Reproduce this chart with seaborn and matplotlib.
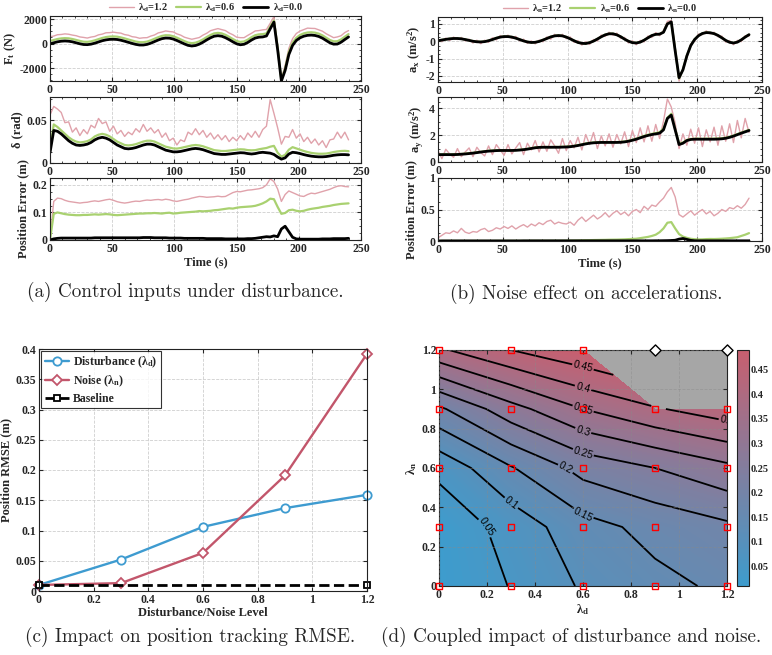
import numpy as np
import seaborn as sns
import matplotlib
matplotlib.use('Agg')
import matplotlib.pyplot as plt
from matplotlib.ticker import AutoMinorLocator, FuncFormatter
from matplotlib.colors import LinearSegmentedColormap

# time grid (s)
t = np.arange(0, 241, 3)

# ---- (a) disturbance sweep ----
ft_d12 = [560, 610, 720, 740, 790, 760, 690, 640, 540,
          500, 450, 530, 580, 710, 770, 880, 890, 930,
          880, 850, 730, 680, 560, 520, 430, 470, 480,
          610, 700, 870, 940, 1030, 980, 950, 790, 690,
          520, 430, 350, 420, 490, 690, 840, 1050, 1140,
          1220, 1140, 1060, 860, 720, 520, 480, 480, 670,
          840, 1030, 1060, 1120, 1150, 1650, 2200, -150, -2850,
          -1800, -400, 400, 820, 1020, 1140, 1260, 1240, 1230,
          1120, 1010, 800, 640, 480, 540, 640, 900, 1060]
ft_d06 = [200, 290, 370, 420, 440, 425, 370, 295, 215,
          150, 140, 180, 260, 360, 455, 530, 570, 580,
          560, 500, 420, 330, 245, 160, 110, 110, 160,
          260, 390, 515, 625, 680, 670, 600, 480, 340,
          200, 80, 30, 70, 180, 340, 530, 700, 830,
          870, 830, 710, 550, 370, 210, 130, 170, 320,
          520, 680, 750, 770, 830, 1380, 1880, -350, -3000,
          -2050, -700, 60, 470, 700, 830, 900, 920, 890,
          810, 670, 480, 290, 180, 190, 340, 560, 770]
ft_d00 = [-30, 60, 140, 190, 210, 190, 140, 60, -20,
          -80, -90, -50, 30, 130, 230, 300, 340, 350,
          330, 270, 190, 100, 10, -70, -120, -120, -70,
          30, 160, 290, 400, 450, 440, 370, 250, 110,
          -30, -150, -200, -160, -50, 110, 300, 470, 600,
          640, 600, 480, 320, 140, -20, -100, -60, 90,
          290, 450, 520, 540, 620, 1200, 1750, -500, -3060,
          -2200, -900, -150, 250, 470, 600, 670, 690, 660,
          580, 440, 250, 60, -50, -40, 110, 330, 540]

delta_d12 = [0.056, 0.066, 0.063, 0.059, 0.047, 0.048, 0.036, 0.041, 0.032,
             0.039, 0.034, 0.044, 0.041, 0.052, 0.046, 0.048, 0.037, 0.043,
             0.034, 0.038, 0.031, 0.036, 0.033, 0.040, 0.036, 0.045, 0.037,
             0.041, 0.035, 0.039, 0.030, 0.035, 0.026, 0.029, 0.021, 0.027,
             0.025, 0.036, 0.033, 0.040, 0.033, 0.038, 0.030, 0.035, 0.028,
             0.033, 0.027, 0.032, 0.025, 0.030, 0.026, 0.032, 0.027, 0.035,
             0.030, 0.037, 0.030, 0.039, 0.043, 0.074, 0.058, 0.041, 0.022,
             0.031, 0.030, 0.039, 0.029, 0.034, 0.025, 0.030, 0.023, 0.028,
             0.021, 0.026, 0.018, 0.027, 0.028, 0.036, 0.029, 0.036, 0.027]
delta_d06 = [0.015, 0.045, 0.042, 0.038, 0.034, 0.030, 0.027, 0.025, 0.024,
             0.0245, 0.0255, 0.0275, 0.031, 0.033, 0.034, 0.033, 0.031, 0.028,
             0.025, 0.023, 0.021, 0.0205, 0.021, 0.022, 0.0235, 0.025, 0.026,
             0.026, 0.025, 0.023, 0.021, 0.019, 0.018, 0.017, 0.0168, 0.0175,
             0.0185, 0.0195, 0.0205, 0.021, 0.0205, 0.0195, 0.018, 0.0165, 0.015,
             0.0145, 0.014, 0.014, 0.0145, 0.015, 0.0155, 0.016, 0.0158, 0.015,
             0.0148, 0.015, 0.016, 0.0168, 0.0175, 0.019, 0.020, 0.012, 0.0075,
             0.0095, 0.0155, 0.0185, 0.017, 0.0155, 0.014, 0.0128, 0.0118, 0.0112,
             0.0108, 0.0108, 0.011, 0.0118, 0.0128, 0.0135, 0.014, 0.0142, 0.0138]
delta_d00 = [0.012, 0.038, 0.037, 0.034, 0.030, 0.026, 0.023, 0.021, 0.0205,
             0.021, 0.022, 0.024, 0.027, 0.029, 0.030, 0.029, 0.027, 0.024,
             0.021, 0.019, 0.017, 0.0165, 0.017, 0.018, 0.0195, 0.021, 0.022,
             0.022, 0.021, 0.019, 0.017, 0.015, 0.014, 0.013, 0.013, 0.0135,
             0.0145, 0.0155, 0.0165, 0.017, 0.0165, 0.0155, 0.014, 0.0125, 0.011,
             0.0105, 0.010, 0.010, 0.0105, 0.011, 0.0115, 0.012, 0.0118, 0.011,
             0.0105, 0.011, 0.012, 0.0125, 0.012, 0.0115, 0.010, 0.007, 0.0045,
             0.006, 0.0105, 0.0125, 0.012, 0.011, 0.0098, 0.0088, 0.008, 0.0075,
             0.0072, 0.0072, 0.0075, 0.0082, 0.009, 0.0095, 0.0098, 0.0098, 0.0095]

perr_d12 = [0.0, 0.140, 0.152, 0.150, 0.144, 0.140, 0.138, 0.136, 0.134,
            0.136, 0.137, 0.140, 0.142, 0.140, 0.143, 0.146, 0.148, 0.144,
            0.139, 0.136, 0.134, 0.136, 0.139, 0.141, 0.140, 0.143, 0.145,
            0.144, 0.146, 0.147, 0.145, 0.148, 0.146, 0.142, 0.140, 0.143,
            0.146, 0.148, 0.152, 0.155, 0.158, 0.157, 0.155, 0.156, 0.157,
            0.159, 0.157, 0.158, 0.165, 0.172, 0.176, 0.175, 0.178, 0.181,
            0.182, 0.184, 0.186, 0.190, 0.200, 0.222, 0.212, 0.185, 0.140,
            0.165, 0.178, 0.172, 0.166, 0.160, 0.158, 0.165, 0.170, 0.168,
            0.172, 0.176, 0.180, 0.184, 0.190, 0.195, 0.197, 0.194, 0.193]
perr_d06 = [0.0, 0.095, 0.100, 0.097, 0.094, 0.092, 0.091, 0.090, 0.090,
            0.091, 0.091, 0.092, 0.093, 0.092, 0.093, 0.094, 0.093, 0.091,
            0.090, 0.091, 0.092, 0.093, 0.094, 0.095, 0.096, 0.096, 0.097,
            0.097, 0.098, 0.097, 0.096, 0.098, 0.099, 0.096, 0.097, 0.099,
            0.100, 0.101, 0.102, 0.103, 0.105, 0.104, 0.105, 0.106, 0.108,
            0.109, 0.111, 0.113, 0.115, 0.114, 0.117, 0.119, 0.120, 0.121,
            0.122, 0.124, 0.128, 0.133, 0.140, 0.150, 0.148, 0.120, 0.095,
            0.098, 0.108, 0.110, 0.106, 0.104, 0.106, 0.110, 0.113, 0.115,
            0.117, 0.120, 0.122, 0.124, 0.127, 0.129, 0.131, 0.132, 0.133]
perr_d00 = [0.0, 0.004, 0.006, 0.007, 0.007, 0.007, 0.007, 0.007, 0.007,
            0.007, 0.007, 0.007, 0.008, 0.008, 0.008, 0.008, 0.008, 0.008,
            0.008, 0.008, 0.008, 0.008, 0.008, 0.008, 0.008, 0.009, 0.009,
            0.009, 0.008, 0.008, 0.008, 0.008, 0.007, 0.007, 0.007, 0.007,
            0.006, 0.006, 0.006, 0.006, 0.006, 0.006, 0.005, 0.005, 0.005,
            0.005, 0.005, 0.004, 0.004, 0.004, 0.004, 0.004, 0.004, 0.005,
            0.005, 0.006, 0.008, 0.010, 0.012, 0.011, 0.015, 0.012, 0.040,
            0.050, 0.030, 0.010, 0.004, 0.003, 0.003, 0.003, 0.003, 0.003,
            0.003, 0.004, 0.004, 0.004, 0.005, 0.005, 0.005, 0.005, 0.006]

# ---- (b) noise sweep ----
ax_n12 = [0.10, -0.02, 0.18, 0.05, 0.24, 0.10, 0.22, 0.02, 0.12,
          -0.10, 0.06, -0.14, 0.06, -0.06, 0.20, 0.08, 0.33, 0.20,
          0.35, 0.16, 0.28, 0.02, 0.12, -0.12, 0.02, -0.15, 0.06,
          -0.03, 0.25, 0.12, 0.40, 0.25, 0.40, 0.15, 0.25, -0.06,
          0.04, -0.22, -0.03, -0.18, 0.10, 0.02, 0.36, 0.28, 0.52,
          0.35, 0.47, 0.16, 0.22, -0.10, 0.03, -0.20, 0.05, -0.04,
          0.30, 0.22, 0.50, 0.32, 0.62, 1.15, 1.20, -0.35, -2.30,
          -1.55, -0.95, -0.15, 0.00, 0.42, 0.38, 0.60, 0.42, 0.52,
          0.26, 0.30, -0.05, 0.04, -0.20, 0.05, -0.02, 0.32, 0.30]
ax_n06 = [0.03, 0.08, 0.11, 0.15, 0.16, 0.17, 0.14, 0.11, 0.05,
          0.01, -0.03, -0.03, -0.02, 0.04, 0.10, 0.19, 0.24, 0.28,
          0.27, 0.25, 0.18, 0.11, 0.02, -0.03, -0.07, -0.05, -0.01,
          0.08, 0.16, 0.26, 0.31, 0.34, 0.31, 0.25, 0.14, 0.04,
          -0.07, -0.11, -0.13, -0.07, 0.01, 0.14, 0.26, 0.38, 0.43,
          0.44, 0.37, 0.27, 0.12, 0.01, -0.08, -0.09, -0.05, 0.07,
          0.20, 0.34, 0.40, 0.42, 0.53, 1.02, 1.10, -0.50, -2.15,
          -1.62, -0.84, -0.24, 0.11, 0.33, 0.45, 0.51, 0.49, 0.45,
          0.34, 0.21, 0.05, -0.05, -0.10, -0.04, 0.08, 0.25, 0.38]
ax_n00 = [0.03, 0.07, 0.11, 0.14, 0.16, 0.16, 0.14, 0.10, 0.05,
          0.00, -0.03, -0.04, -0.02, 0.03, 0.10, 0.18, 0.24, 0.27,
          0.27, 0.24, 0.18, 0.10, 0.02, -0.04, -0.07, -0.06, -0.01,
          0.07, 0.16, 0.25, 0.31, 0.33, 0.31, 0.24, 0.14, 0.03,
          -0.07, -0.12, -0.13, -0.08, 0.01, 0.13, 0.26, 0.37, 0.43,
          0.43, 0.37, 0.26, 0.12, 0.00, -0.08, -0.10, -0.05, 0.06,
          0.20, 0.33, 0.40, 0.41, 0.52, 1.00, 1.12, -0.55, -2.10,
          -1.65, -0.85, -0.25, 0.10, 0.32, 0.45, 0.50, 0.49, 0.44,
          0.34, 0.20, 0.05, -0.06, -0.10, -0.05, 0.08, 0.24, 0.38]

ay_n12 = [0.85, 0.25, 0.95, 0.60, 0.35, 1.00, 0.40, 0.75, 1.05,
          0.40, 1.10, 0.70, 0.45, 1.20, 0.55, 1.30, 0.90, 0.50,
          1.30, 0.60, 1.05, 1.45, 0.55, 1.40, 0.90, 1.60, 0.75,
          1.50, 0.80, 1.65, 1.20, 0.65, 1.75, 0.85, 1.60, 1.05,
          1.85, 0.90, 2.05, 1.30, 2.20, 1.00, 1.95, 1.20, 2.10,
          1.10, 2.05, 1.35, 2.25, 1.15, 2.35, 1.45, 2.55, 1.50,
          2.70, 1.55, 2.80, 1.75, 3.05, 4.70, 4.10, 2.90, 1.00,
          2.10, 1.25, 2.45, 1.40, 2.55, 1.15, 2.40, 1.50, 2.60,
          1.25, 2.70, 1.55, 2.85, 1.45, 3.10, 1.80, 3.25, 2.20]
ay_n06 = [0.58, 0.56, 0.60, 0.55, 0.58, 0.57, 0.60, 0.62, 0.66,
          0.68, 0.73, 0.76, 0.80, 0.84, 0.85, 0.88, 0.87, 0.89,
          0.87, 0.89, 0.88, 0.92, 0.93, 0.98, 1.03, 1.08, 1.11,
          1.12, 1.12, 1.11, 1.13, 1.12, 1.14, 1.14, 1.17, 1.20,
          1.26, 1.31, 1.38, 1.42, 1.46, 1.47, 1.49, 1.48, 1.49,
          1.48, 1.49, 1.50, 1.53, 1.58, 1.66, 1.74, 1.84, 1.95,
          2.03, 2.10, 2.16, 2.22, 2.50, 3.30, 3.60, 2.45, 1.38,
          1.45, 1.64, 1.72, 1.73, 1.74, 1.72, 1.74, 1.73, 1.74,
          1.75, 1.77, 1.81, 1.88, 1.97, 2.08, 2.19, 2.29, 2.40]
ay_n00 = [0.55, 0.55, 0.55, 0.55, 0.55, 0.56, 0.58, 0.60, 0.63,
          0.66, 0.70, 0.74, 0.78, 0.81, 0.83, 0.85, 0.86, 0.86,
          0.86, 0.86, 0.87, 0.89, 0.92, 0.96, 1.01, 1.06, 1.09,
          1.10, 1.10, 1.10, 1.10, 1.10, 1.11, 1.12, 1.14, 1.18,
          1.23, 1.29, 1.35, 1.40, 1.43, 1.45, 1.46, 1.46, 1.46,
          1.46, 1.46, 1.47, 1.50, 1.55, 1.62, 1.70, 1.80, 1.90,
          1.98, 2.05, 2.10, 2.15, 2.40, 3.25, 3.50, 2.40, 1.30,
          1.40, 1.60, 1.68, 1.70, 1.70, 1.70, 1.70, 1.70, 1.70,
          1.71, 1.73, 1.77, 1.84, 1.93, 2.04, 2.15, 2.25, 2.35]

perr_n12 = [0.05, 0.09, 0.13, 0.12, 0.16, 0.13, 0.20, 0.14, 0.12,
            0.15, 0.14, 0.18, 0.20, 0.15, 0.17, 0.21, 0.19, 0.23,
            0.20, 0.24, 0.19, 0.23, 0.26, 0.22, 0.27, 0.24, 0.29,
            0.26, 0.31, 0.33, 0.27, 0.30, 0.28, 0.27, 0.30, 0.25,
            0.33, 0.38, 0.31, 0.36, 0.41, 0.35, 0.39, 0.45, 0.38,
            0.44, 0.48, 0.42, 0.46, 0.40, 0.47, 0.50, 0.45, 0.55,
            0.50, 0.57, 0.55, 0.62, 0.68, 0.78, 0.85, 0.70, 0.42,
            0.38, 0.43, 0.48, 0.41, 0.46, 0.50, 0.43, 0.47, 0.40,
            0.44, 0.50, 0.47, 0.53, 0.51, 0.56, 0.52, 0.58, 0.68]
perr_n06 = [0.000, 0.001, 0.001, 0.001, 0.001, 0.001, 0.001, 0.001, 0.001,
            0.001, 0.001, 0.001, 0.001, 0.001, 0.001, 0.002, 0.002, 0.002,
            0.002, 0.002, 0.002, 0.002, 0.002, 0.002, 0.003, 0.003, 0.003,
            0.003, 0.003, 0.004, 0.004, 0.004, 0.005, 0.005, 0.006, 0.007,
            0.008, 0.010, 0.012, 0.013, 0.015, 0.016, 0.017, 0.018, 0.020,
            0.021, 0.022, 0.024, 0.026, 0.030, 0.033, 0.036, 0.045, 0.055,
            0.065, 0.080, 0.100, 0.140, 0.200, 0.290, 0.300, 0.200, 0.110,
            0.070, 0.050, 0.035, 0.028, 0.025, 0.026, 0.030, 0.032, 0.031,
            0.033, 0.036, 0.040, 0.045, 0.052, 0.060, 0.080, 0.100, 0.125]
perr_n00 = [0.000, 0.002, 0.002, 0.002, 0.002, 0.002, 0.002, 0.002, 0.002,
            0.002, 0.002, 0.002, 0.002, 0.002, 0.002, 0.002, 0.002, 0.002,
            0.002, 0.002, 0.002, 0.002, 0.003, 0.003, 0.003, 0.003, 0.003,
            0.003, 0.003, 0.003, 0.003, 0.003, 0.003, 0.003, 0.003, 0.003,
            0.003, 0.003, 0.003, 0.003, 0.003, 0.003, 0.003, 0.003, 0.003,
            0.003, 0.003, 0.003, 0.003, 0.003, 0.003, 0.003, 0.003, 0.003,
            0.003, 0.003, 0.004, 0.004, 0.005, 0.006, 0.008, 0.012, 0.030,
            0.040, 0.025, 0.010, 0.004, 0.003, 0.003, 0.003, 0.003, 0.003,
            0.003, 0.003, 0.003, 0.003, 0.003, 0.003, 0.003, 0.003, 0.003]

# ---- (c) RMSE vs level ----
levels = [0, 0.3, 0.6, 0.9, 1.2]
rmse_dist = [0.010, 0.052, 0.106, 0.137, 0.159]
rmse_noise = [0.010, 0.013, 0.063, 0.191, 0.392]
base_x = [0, 1.2]
rmse_base = [0.010, 0.010]

# ---- (d) coupled RMSE grid (rows: lambda_n, cols: lambda_d) ----
lam_d = [0, 0.3, 0.6, 0.9, 1.2]
lam_n = [0, 0.3, 0.6, 0.9, 1.2]
rmse_n00 = [0.010, 0.052, 0.106, 0.137, 0.159]
rmse_n03 = [0.013, 0.069, 0.132, 0.165, 0.190]
rmse_n06 = [0.063, 0.146, 0.217, 0.250, 0.288]
rmse_n09 = [0.191, 0.281, 0.350, 0.395, 0.428]
rmse_n12 = [0.392, 0.450, 0.490, np.nan, np.nan]
contour_levels = [0.05, 0.1, 0.15, 0.2, 0.25, 0.3, 0.35, 0.4, 0.45]

PINK, GREEN = '#e0a2ab', '#a9d170'
BLUE, RED = '#3e9bd0', '#c2566b'

sns.set_style('ticks')
plt.rcParams.update({
    'font.family': ['Liberation Serif', 'DejaVu Serif'],
    'font.weight': 'bold',
    'axes.labelweight': 'bold',
    'axes.unicode_minus': False,
    'mathtext.default': 'regular',
    'font.size': 8.5,
    'axes.labelsize': 9,
    'xtick.labelsize': 8.5,
    'ytick.labelsize': 8.5,
    'xtick.direction': 'in',
    'ytick.direction': 'in',
    'xtick.top': True,
    'ytick.right': True,
    'axes.linewidth': 0.8,
    'axes.edgecolor': '#222222',
    'xtick.major.size': 3,
    'ytick.major.size': 3,
    'xtick.minor.size': 1.5,
    'ytick.minor.size': 1.5,
    'xtick.major.pad': 2,
    'ytick.major.pad': 2,
})

fmt_g = FuncFormatter(lambda v, p: f'{v:g}')


def style(ax, ylim, yticks, xlim=(0, 250), xticks=range(0, 251, 50), minor=True):
    ax.set_xlim(*xlim)
    ax.set_ylim(*ylim)
    ax.set_xticks(list(xticks))
    ax.set_yticks(yticks)
    if minor:
        ax.xaxis.set_minor_locator(AutoMinorLocator(5))
        ax.yaxis.set_minor_locator(AutoMinorLocator(4))
    ax.xaxis.set_major_formatter(fmt_g)
    ax.yaxis.set_major_formatter(fmt_g)
    ax.tick_params(which='both', direction='in', top=True, right=True)
    ax.grid(True, which='major', ls='--', lw=0.6, color='#cfcfcf')
    ax.set_axisbelow(True)


def draw3(ax, series, labels):
    for y, lab, c, w in zip(series, labels, [PINK, GREEN, 'black'], [1.0, 1.6, 2.0]):
        sns.lineplot(x=t, y=y, ax=ax, color=c, lw=w, label=lab, legend=False)


W, H = 772, 655
fig = plt.figure(figsize=(W / 100, H / 100), dpi=100)


def box(l, top, r, bottom):
    return [l / W, 1 - bottom / H, (r - l) / W, (bottom - top) / H]


leg_kw = dict(loc='center', bbox_to_anchor=(0.5, 1.125), ncol=3, frameon=False,
              fontsize=7.5, handlelength=2.4, columnspacing=0.8, handletextpad=0.4, borderpad=0)

# (a)
a1 = fig.add_axes(box(50, 16, 361, 81))
a2 = fig.add_axes(box(50, 97, 361, 163))
a3 = fig.add_axes(box(50, 178, 361, 240))
lab_d = ['λ$_d$=1.2', 'λ$_d$=0.6', 'λ$_d$=0.0']
draw3(a1, [ft_d12, ft_d06, ft_d00], lab_d)
draw3(a2, [delta_d12, delta_d06, delta_d00], lab_d)
draw3(a3, [perr_d12, perr_d06, perr_d00], lab_d)
style(a1, (-3060, 2250), [-2000, 0, 2000])
style(a2, (0, 0.077), [0, 0.05])
style(a3, (0, 0.225), [0, 0.1, 0.2])
a1.set_ylabel('F$_t$ (N)', labelpad=1)
a2.set_ylabel('δ (rad)', labelpad=2)
a3.set_ylabel('Position Error (m)', labelpad=2)
a3.set_xlabel('Time (s)', labelpad=1)
a1.legend(**leg_kw)

# (b)
b1 = fig.add_axes(box(438, 17, 762, 82))
b2 = fig.add_axes(box(438, 97, 762, 162))
b3 = fig.add_axes(box(438, 178, 762, 241))
lab_n = ['λ$_n$=1.2', 'λ$_n$=0.6', 'λ$_n$=0.0']
draw3(b1, [ax_n12, ax_n06, ax_n00], lab_n)
draw3(b2, [ay_n12, ay_n06, ay_n00], lab_n)
draw3(b3, [perr_n12, perr_n06, perr_n00], lab_n)
style(b1, (-2.35, 1.4), [-2, -1, 0, 1])
style(b2, (0, 4.85), [0, 2, 4])
style(b3, (0, 1), [0, 0.5, 1])
b1.set_ylabel('a$_x$ (m/s$^2$)', labelpad=2)
b2.set_ylabel('a$_y$ (m/s$^2$)', labelpad=2)
b3.set_ylabel('Position Error (m)', labelpad=2)
b3.set_xlabel('Time (s)', labelpad=1)
b1.legend(**leg_kw)

# (c)
c = fig.add_axes(box(39, 349, 367, 591))
sns.lineplot(x=levels, y=rmse_dist, ax=c, color=BLUE, lw=1.7, marker='o', ms=6,
             mfc='white', mec=BLUE, mew=1.3, label='Disturbance (λ$_d$)', legend=False)
sns.lineplot(x=levels, y=rmse_noise, ax=c, color=RED, lw=1.7, marker='D', ms=5,
             mfc='white', mec=RED, mew=1.3, label='Noise (λ$_n$)', legend=False)
sns.lineplot(x=base_x, y=rmse_base, ax=c, color='black', lw=2.0, ls='--', marker='s', ms=4.5,
             mfc='white', mec='black', mew=1.3, label='Baseline', legend=False)
for ln in c.get_lines():
    ln.set_clip_on(False)
style(c, (0, 0.4), [0, 0.05, 0.1, 0.15, 0.2, 0.25, 0.3, 0.35, 0.4],
      xlim=(0, 1.2), xticks=[0, 0.2, 0.4, 0.6, 0.8, 1.0, 1.2], minor=False)
c.set_ylabel('Position RMSE (m)', labelpad=2)
c.set_xlabel('Disturbance/Noise Level', labelpad=1)
leg = c.legend(loc='upper left', frameon=True, fancybox=False, edgecolor='black',
               fontsize=8.5, handlelength=2.0, borderaxespad=0.2, borderpad=0.3,
               labelspacing=0.3, handletextpad=0.4)
leg.get_frame().set_linewidth(0.8)

# (d)
d = fig.add_axes(box(439, 350, 727, 586))
Z = np.ma.masked_invalid(np.array([rmse_n00, rmse_n03, rmse_n06, rmse_n09, rmse_n12]))
X, Y = np.meshgrid(lam_d, lam_n)
cmap = LinearSegmentedColormap.from_list('bluered', ['#3d9ccd', '#c85f6f'])
d.set_facecolor('#a6a6a6')
cf = d.contourf(X, Y, Z, levels=np.linspace(0.01, 0.49, 97), cmap=cmap, corner_mask=True)
cs = d.contour(X, Y, Z, levels=contour_levels, colors='black', linewidths=1.3, corner_mask=True)
for txt in d.clabel(cs, fmt='%g', fontsize=7.5, inline=True, inline_spacing=2):
    txt.set_fontweight('normal')
    txt.set_family(['Liberation Sans', 'DejaVu Sans'])
style(d, (0, 1.2), [0, 0.2, 0.4, 0.6, 0.8, 1.0, 1.2],
      xlim=(0, 1.2), xticks=[0, 0.2, 0.4, 0.6, 0.8, 1.0, 1.2], minor=False)
d.grid(True, ls='--', lw=0.6, color='#8a8a8a', alpha=0.5)
d.set_axisbelow(False)
pts_x = [lx for ln_ in lam_n for lx in lam_d if not (ln_ == 1.2 and lx >= 0.9)]
pts_y = [ln_ for ln_ in lam_n for lx in lam_d if not (ln_ == 1.2 and lx >= 0.9)]
sns.scatterplot(x=pts_x, y=pts_y, ax=d, marker='s', s=14, facecolor='none',
                edgecolor='red', linewidth=1.0, clip_on=False, zorder=5)
sns.scatterplot(x=[0.9, 1.2], y=[1.2, 1.2], ax=d, marker='D', s=32, facecolor='white',
                edgecolor='black', linewidth=1.0, clip_on=False, zorder=5)
d.set_xlabel('λ$_d$', labelpad=1)
d.set_ylabel('λ$_n$', labelpad=2)

cax = fig.add_axes(box(737, 350, 749, 586))
cb = fig.colorbar(cf, cax=cax, ticks=[0.05, 0.1, 0.15, 0.2, 0.25, 0.3, 0.35, 0.4, 0.45])
cb.ax.yaxis.set_major_formatter(fmt_g)
cb.ax.tick_params(direction='in', length=2, labelsize=7.5, right=True, left=False, pad=1.5)
cb.outline.set_linewidth(0.8)

# captions
cap = dict(ha='center', va='center', family='cmr10', fontsize=13.8, fontweight='normal')
fig.text(185 / W, 1 - 292 / H, '(a) Control inputs under disturbance.', **cap)
fig.text(586 / W, 1 - 294 / H, '(b) Noise effect on accelerations.', **cap)
fig.text(190 / W, 1 - 637 / H, '(c) Impact on position tracking RMSE.', **cap)
fig.text(571 / W, 1 - 637 / H, '(d) Coupled impact of disturbance and noise.', **cap)

fig.savefig('out.png', dpi=100)
